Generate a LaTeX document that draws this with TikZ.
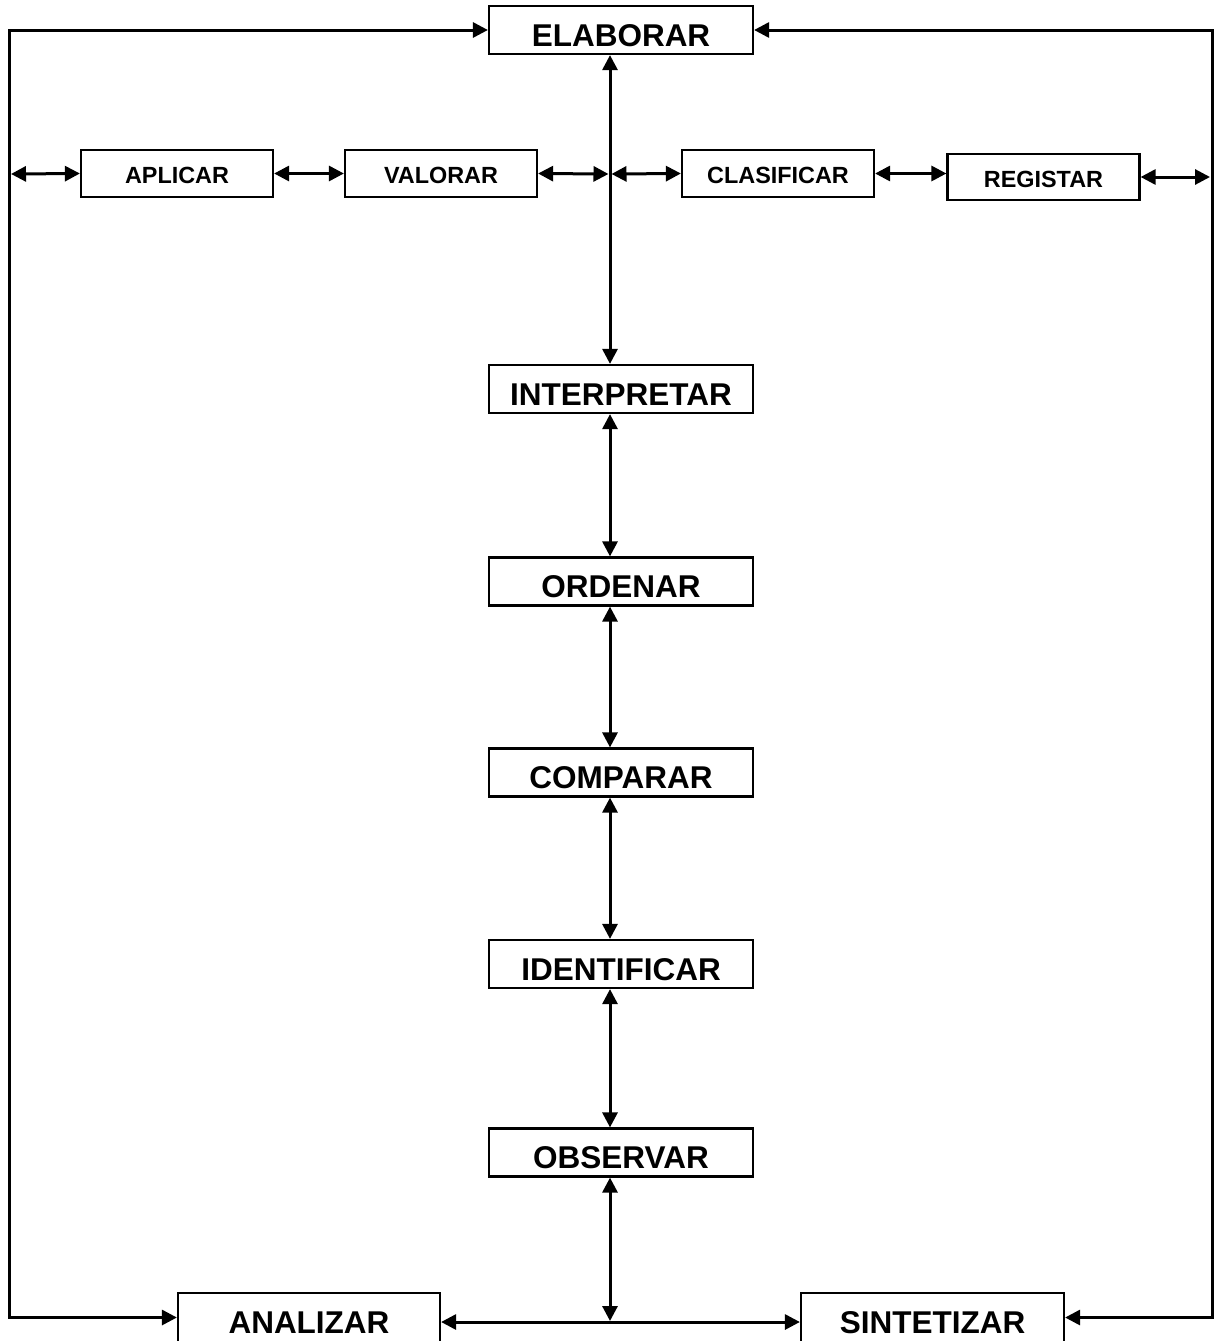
\documentclass[tikz,border=0pt]{standalone}
\usepackage{fontspec}
\setmainfont{Liberation Sans}
\usetikzlibrary{arrows.meta}
\tikzset{
  bigbox/.style={draw, line width=2.2pt, minimum width=264pt, minimum height=48pt, inner sep=0pt,
    font=\fontsize{31.5}{32}\selectfont\bfseries, text height=32pt, text depth=0pt},
  smallbox/.style={draw, line width=2.2pt, minimum width=192pt, minimum height=47pt, inner sep=0pt,
    font=\fontsize{23.4}{24}\selectfont\bfseries, text height=20pt, text depth=0pt},
  conn/.style={line width=3pt, arrows={Triangle[width=15pt,length=15pt]-Triangle[width=15pt,length=15pt]}},
}
\begin{document}
\begin{tikzpicture}[x=1pt,y=-1pt]
\useasboundingbox (0,0) rectangle (1216,1341);
% boxes
\node[bigbox] (ela) at (621,30) {ELABORAR};
\node[smallbox] (apl) at (177,173.5) {APLICAR};
\node[smallbox] (val) at (441,173.5) {VALORAR};
\node[smallbox] (cla) at (778,173.5) {CLASIFICAR};
\node[smallbox, minimum height=46pt] (reg) at (1043.5,177) {REGISTAR};
\node[bigbox] (int) at (621,389) {INTERPRETAR};
\node[bigbox] (ord) at (621,581.5) {ORDENAR};
\node[bigbox] (com) at (621,772.5) {COMPARAR};
\node[bigbox] (ide) at (621,964) {IDENTIFICAR};
\node[bigbox] (obs) at (621,1152.5) {OBSERVAR};
\node[bigbox, minimum width=262pt, minimum height=49pt] (ana) at (309,1317.5) {ANALIZAR};
\node[bigbox, minimum width=263pt, minimum height=49pt] (sin) at (932.5,1317.5) {SINTETIZAR};
% helper coordinates
\coordinate (lt) at (9,30);
\coordinate (lb) at (9,1317.5);
\coordinate (rt) at (1212,30);
\coordinate (rb) at (1212,1317.5);
\coordinate (la) at (11,174);
\coordinate (ra) at (1210,177);
\coordinate (vx) at (610,174);
\coordinate (bm) at (610,1321);
\coordinate (hb) at (0,1322);
% outer loops
\draw[conn] (ela.west) -- (lt) -- (lb) -- (ana.west);
\draw[conn] (ela.east) -- (rt) -- (rb) -- (sin.east);
% row of small boxes
\draw[conn] (la) -- (apl.west);
\draw[conn] (apl.east) -- (val.west);
\draw[conn] (val.east) -- ([xshift=-1.5pt]vx);
\draw[conn] ([xshift=1.5pt]vx) -- (cla.west);
\draw[conn] (cla.east) -- (cla.east -| reg.west);
\draw[conn] (reg.east) -- (ra);
% central spine
\draw[conn] (ela.south -| vx) -- (int.north -| vx);
\draw[conn] (int.south -| vx) -- (ord.north -| vx);
\draw[conn] (ord.south -| vx) -- (com.north -| vx);
\draw[conn] (com.south -| vx) -- (ide.north -| vx);
\draw[conn] (ide.south -| vx) -- (obs.north -| vx);
\draw[conn] (obs.south -| vx) -- (bm);
% bottom
\draw[conn] (ana.east |- hb) -- (sin.west |- hb);
\end{tikzpicture}
\end{document}
